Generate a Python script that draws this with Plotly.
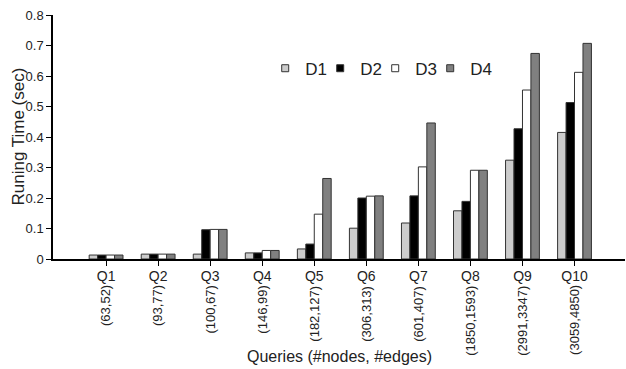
import plotly.graph_objects as go

queries = ["Q1", "Q2", "Q3", "Q4", "Q5", "Q6", "Q7", "Q8", "Q9", "Q10"]
sizes = ["(63,52)", "(93,77)", "(100,67)", "(146,99)", "(182,127)", "(306,313)",
         "(601,407)", "(1850,1593)", "(2991,3347)", "(3059,4850)"]
d1 = [0.013, 0.016, 0.016, 0.020, 0.033, 0.101, 0.118, 0.158, 0.324, 0.415]
d2 = [0.013, 0.016, 0.096, 0.020, 0.049, 0.200, 0.207, 0.189, 0.427, 0.513]
d3 = [0.013, 0.016, 0.097, 0.028, 0.147, 0.206, 0.302, 0.291, 0.554, 0.612]
d4 = [0.013, 0.016, 0.097, 0.028, 0.264, 0.207, 0.446, 0.291, 0.674, 0.707]
ytick_vals = [0, 0.1, 0.2, 0.3, 0.4, 0.5, 0.6, 0.7, 0.8]
ytick_text = ["0", "0.1", "0.2", "0.3", "0.4", "0.5", "0.6", "0.7", "0.8"]

series = [("D1", d1, "#cccccc"), ("D2", d2, "#000000"), ("D3", d3, "#ffffff"), ("D4", d4, "#808080")]

fig = go.Figure()
for name, vals, col in series:
    fig.add_trace(go.Bar(x=queries, y=vals, name=name, showlegend=False,
                         marker=dict(color=col, line=dict(color="#333333", width=1))))
# legend-only entries with small square swatches
for name, vals, col in series:
    fig.add_trace(go.Scatter(x=[None], y=[None], mode="markers", name=name,
                             marker=dict(symbol="square", size=7, color=col,
                                         line=dict(color="#333333", width=1))))
# invisible spacer entry so the last legend label is not clipped
fig.add_trace(go.Scatter(x=[None], y=[None], mode="markers", name=" ",
                         marker=dict(symbol="square", size=1, color="rgba(0,0,0,0)",
                                     line=dict(width=0))))

font = "Liberation Sans, Arial, sans-serif"
for q, s in zip(queries, sizes):
    fig.add_annotation(x=q, y=-0.1, xref="x", yref="paper", text=s, textangle=-90,
                       showarrow=False, xanchor="center", yanchor="top",
                       font=dict(family=font, size=13, color="#222"))

fig.add_annotation(x=-0.062, y=0.5, xref="paper", yref="paper", text="Runing Time (sec)",
                   textangle=-90, showarrow=False, xanchor="center", yanchor="middle",
                   font=dict(family=font, size=17, color="#222"))
fig.add_annotation(x=0.5, y=-0.355, xref="paper", yref="paper", text="Queries (#nodes, #edges)",
                   showarrow=False, xanchor="center", yanchor="top",
                   font=dict(family=font, size=16, color="#222"))

fig.update_layout(
    width=626, height=369,
    margin=dict(l=53, r=1, t=15, b=110, autoexpand=False),
    paper_bgcolor="white", plot_bgcolor="white",
    barmode="group", bargap=0.35, bargroupgap=0,
    font=dict(family=font, size=13, color="#222"),
    showlegend=True,
    legend=dict(orientation="h", x=0.371, y=0.78, xanchor="left", yanchor="middle",
                font=dict(family=font, size=17, color="#222"), bgcolor="rgba(0,0,0,0)",
                itemwidth=30, entrywidth=10),
    xaxis=dict(range=[-1.02, 9.97], showline=True, linecolor="#000", linewidth=1.5,
               ticks="outside", ticklen=5, tickcolor="#000", showgrid=False, zeroline=False,
               ticklabelstandoff=-2, automargin=False, tickfont=dict(size=14)),
    yaxis=dict(range=[0, 0.8], tickvals=ytick_vals, ticktext=ytick_text, showline=True,
               linecolor="#000", linewidth=1.5, ticks="outside", ticklen=5, tickcolor="#000",
               showgrid=False, zeroline=False, automargin=False, tickfont=dict(size=13)),
)
fig.write_html("out.html", config={"displayModeBar": False},
               post_script="document.body.style.margin='0';")
